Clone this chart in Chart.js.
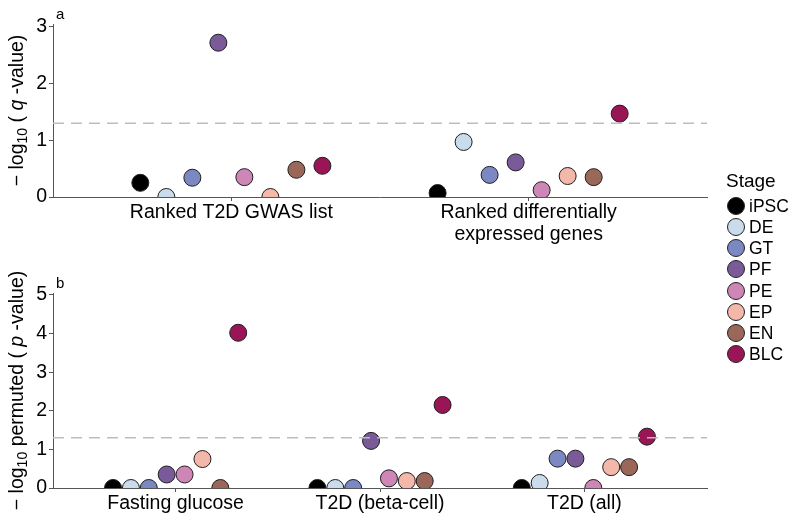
<!DOCTYPE html>
<html>
<head>
<meta charset="utf-8">
<script src="https://cdn.jsdelivr.net/npm/chart.js@4/dist/chart.umd.min.js"></script>
<style>
  body { margin: 0; background: #fff; }
  #wrap { position: relative; width: 800px; height: 521px; font-family: "Liberation Sans", Arial, sans-serif; color: #000; }
  #wrap canvas { position: absolute; left: 0; top: 0; }
  .lg-title { position: absolute; left: 726px; top: 170px; font-size: 19px; line-height: 22px; }
  .lg-row { position: absolute; left: 727px; height: 20px; line-height: 20px; font-size: 17.5px; white-space: nowrap; }
  .lg-dot { position: absolute; left: 0; top: 1px; width: 16px; height: 16px; border: 1px solid #222; border-radius: 50%; }
  .lg-txt { position: absolute; left: 22px; top: 0; }
</style>
</head>
<body>
<div id="wrap">
  <canvas id="chart-a" width="800" height="521"></canvas>
  <canvas id="chart-b" width="800" height="521"></canvas>
  <div id="legend"></div>
</div>
<script>
// Stages (legend order) and their colours
const stages = ['iPSC', 'DE', 'GT', 'PF', 'PE', 'EP', 'EN', 'BLC'];
const stageColors = ['#000000', '#cadcec', '#7b88c2', '#7a5a98', '#cd86b6', '#f4b8ab', '#9a6759', '#9a1556'];

// Panel a: -log10(q-value)
const catsA = [['Ranked T2D GWAS list'], ['Ranked differentially', 'expressed genes']];
const qGwasList = [0.25, 0.0, 0.34, 2.72, 0.35, 0.0, 0.48, 0.55];
const qDiffGenes = [0.07, 0.97, 0.39, 0.61, 0.12, 0.37, 0.35, 1.47];

// Panel b: -log10 permuted(p-value)
const catsB = [['Fasting glucose'], ['T2D (beta-cell)'], ['T2D (all)']];
const pFastingGlucose = [0.0, 0.0, 0.0, 0.35, 0.35, 0.75, 0.0, 4.02];
const pT2dBetaCell = [0.0, 0.0, 0.0, 1.22, 0.25, 0.18, 0.18, 2.15];
const pT2dAll = [0.0, 0.13, 0.76, 0.76, 0.0, 0.54, 0.54, 1.33];

const threshold = -Math.log10(0.05);

const FONT = '"Liberation Sans", Arial, sans-serif';
const axisColor = '#555';
const dodgeWidth = 0.7;

// position_dodge style offset of a stage inside a category
function dodge(si) {
  return (si - (stages.length - 1) / 2) * dodgeWidth / stages.length;
}

function buildDatasets(groups, nCats) {
  const sets = stages.map((s, si) => ({
    type: 'scatter',
    label: s,
    data: groups.map((vals, ci) => ({ x: ci + 1 + dodge(si), y: vals[si] })),
    backgroundColor: stageColors[si],
    borderColor: '#1e1e1e',
    borderWidth: 1,
    pointRadius: 8.5,
    order: 1,
    clip: { left: false, top: false, right: false, bottom: 0 }
  }));
  sets.push({
    type: 'line',
    label: 'threshold',
    data: [{ x: 0.4, y: threshold }, { x: nCats + 0.6, y: threshold }],
    borderColor: '#bdbdbd',
    borderWidth: 1.6,
    borderDash: [11, 7],
    pointRadius: 0,
    order: 0
  });
  return sets;
}

// y-axis title with subscript / italic parts, plus the panel tag
const axisTitle = {
  id: 'axisTitle',
  afterDraw(chart, args, opts) {
    const ctx = chart.ctx;
    const { top, bottom, left } = chart.chartArea;
    const size = opts.size;
    const parts = opts.parts.map(p => ({
      ...p,
      font: p.sub ? `${size * 0.72}px ${FONT}` : (p.italic ? `italic ${size}px ${FONT}` : `${size}px ${FONT}`)
    }));
    ctx.save();
    let total = 0;
    parts.forEach(p => { ctx.font = p.font; p.w = ctx.measureText(p.text).width; total += p.w; });
    ctx.translate(opts.x, (top + bottom) / 2);
    ctx.rotate(-Math.PI / 2);
    ctx.fillStyle = '#000';
    ctx.textBaseline = 'middle';
    let x = -total / 2;
    parts.forEach(p => {
      ctx.font = p.font;
      ctx.fillText(p.text, x, p.sub ? size * 0.28 : 0);
      x += p.w;
    });
    ctx.restore();

    ctx.save();
    ctx.font = `15px ${FONT}`;
    ctx.fillStyle = '#000';
    ctx.textBaseline = 'alphabetic';
    ctx.fillText(opts.tag, left + 3, top - 5);
    ctx.restore();
  }
};

function makeChart(id, cats, groups, yMax, area, titleParts, tag) {
  const ctx = document.getElementById(id).getContext('2d');
  return new Chart(ctx, {
    data: { datasets: buildDatasets(groups, cats.length) },
    options: {
      responsive: false,
      animation: false,
      events: [],
      layout: { padding: { top: area.top, left: 0, right: 800 - area.right, bottom: 0 } },
      plugins: {
        legend: { display: false },
        tooltip: { enabled: false },
        axisTitle: { parts: titleParts, size: 19.5, x: 18, tag: tag }
      },
      scales: {
        x: {
          type: 'linear',
          min: 0.4,
          max: cats.length + 0.6,
          afterBuildTicks: s => { s.ticks = cats.map((c, i) => ({ value: i + 1 })); },
          afterFit: s => { s.height = 521 - area.bottom; },
          ticks: {
            callback: (v, i) => cats[i],
            font: { family: FONT, size: 19.5, lineHeight: 1.1 },
            color: '#000',
            padding: 1,
            maxRotation: 0,
            autoSkip: false
          },
          grid: { display: true, drawOnChartArea: false, tickLength: 4, color: axisColor },
          border: { display: true, color: axisColor, width: 1 }
        },
        y: {
          min: 0,
          max: yMax,
          afterBuildTicks: s => {
            const t = [];
            for (let v = 0; v <= Math.floor(yMax); v++) t.push({ value: v });
            s.ticks = t;
          },
          afterFit: s => { s.width = area.left; },
          ticks: {
            stepSize: 1,
            font: { family: FONT, size: 19.5 },
            color: '#000',
            padding: 2
          },
          grid: { display: true, drawOnChartArea: false, tickLength: 4, color: axisColor },
          border: { display: true, color: axisColor, width: 1 }
        }
      }
    },
    plugins: [axisTitle]
  });
}

const chartA = makeChart('chart-a', catsA, [qGwasList, qDiffGenes], 3.05,
  { left: 53, right: 707, top: 24, bottom: 197 },
  [{ text: '\u2212 log' }, { text: '10', sub: true }, { text: ' ( ' }, { text: 'q', italic: true }, { text: ' -value)' }],
  'a');

const chartB = makeChart('chart-b', catsB, [pFastingGlucose, pT2dBetaCell, pT2dAll], 5.05,
  { left: 53, right: 707, top: 293, bottom: 488 },
  [{ text: '\u2212 log' }, { text: '10', sub: true }, { text: ' permuted ( ' }, { text: 'p', italic: true }, { text: ' -value)' }],
  'b');

// Shared legend on the right
const legend = document.getElementById('legend');
let html = '<div class="lg-title">Stage</div>';
stages.forEach((s, i) => {
  const y = 205.7 + i * 21.2;
  html += `<div class="lg-row" style="top:${(y - 10).toFixed(1)}px">` +
    `<span class="lg-dot" style="background:${stageColors[i]}"></span>` +
    `<span class="lg-txt">${s}</span></div>`;
});
legend.innerHTML = html;
</script>
</body>
</html>
